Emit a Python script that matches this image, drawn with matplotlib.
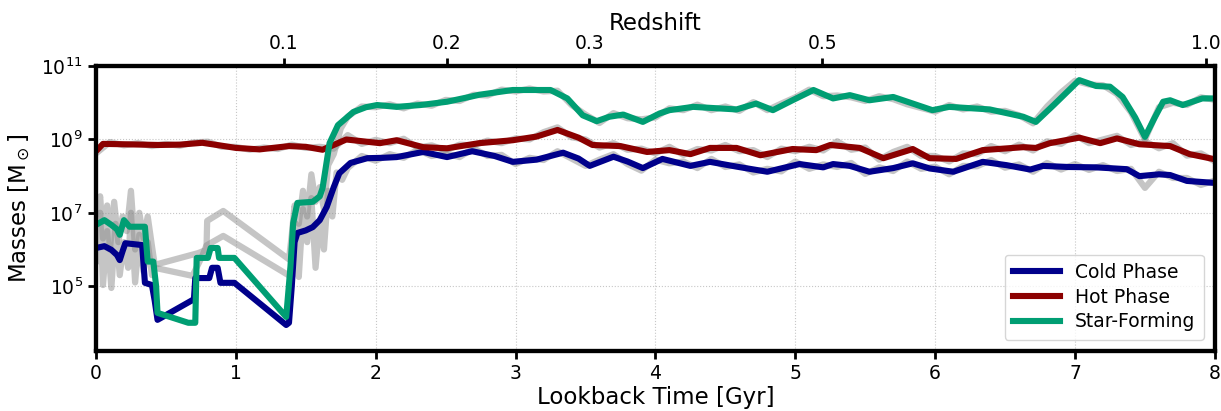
import numpy as np
import matplotlib
matplotlib.use("Agg")
import matplotlib.pyplot as plt

# ---------------------------------------------------------------------------
# Gas-phase masses (log10 Msun) versus lookback time (Gyr)
# ---------------------------------------------------------------------------

# Smoothed curves
cold_t = [0.00, 0.06, 0.11, 0.15, 0.17, 0.19, 0.21, 0.33, 0.34, 0.35, 0.40, 0.42,
          0.44, 0.69, 0.70, 0.71, 0.81, 0.83, 0.87, 0.89, 0.99, 1.36, 1.38, 1.40,
          1.42, 1.44, 1.50, 1.55, 1.60, 1.65, 1.70, 1.74, 1.82, 1.94, 2.05, 2.15,
          2.34, 2.51, 2.69, 2.85, 2.98, 3.15, 3.34, 3.45, 3.53, 3.70, 3.80, 3.91,
          4.05, 4.25, 4.39, 4.58, 4.80, 5.03, 5.20, 5.27, 5.39, 5.53, 5.70, 5.84,
          5.96, 6.13, 6.34, 6.51, 6.68, 6.77, 6.95, 7.15, 7.37, 7.46, 7.60, 7.68,
          7.80, 7.98, 8.00]
cold_log = [6.04, 6.09, 5.99, 5.85, 5.71, 5.95, 6.17, 6.12, 5.60, 5.09, 5.03, 4.60,
            4.08, 4.62, 4.62, 5.22, 5.22, 5.50, 5.50, 5.09, 5.09, 3.94, 4.00, 5.00,
            6.20, 6.45, 6.52, 6.61, 6.80, 7.16, 7.70, 8.08, 8.36, 8.49, 8.50, 8.52,
            8.66, 8.52, 8.68, 8.55, 8.39, 8.45, 8.64, 8.48, 8.28, 8.53, 8.40, 8.22,
            8.47, 8.28, 8.39, 8.26, 8.12, 8.33, 8.24, 8.33, 8.28, 8.12, 8.22, 8.35,
            8.21, 8.12, 8.39, 8.30, 8.18, 8.28, 8.25, 8.24, 8.19, 8.00, 8.05, 8.03,
            7.87, 7.82, 7.82]

hot_t = [0.00, 0.05, 0.20, 0.45, 0.60, 0.76, 0.90, 1.00, 1.17, 1.38, 1.50, 1.62,
         1.79, 2.03, 2.15, 2.34, 2.51, 2.74, 2.98, 3.15, 3.30, 3.45, 3.55, 3.75,
         3.94, 4.10, 4.25, 4.39, 4.58, 4.75, 4.98, 5.15, 5.25, 5.46, 5.63, 5.84,
         5.96, 6.15, 6.34, 6.63, 6.72, 6.82, 7.03, 7.18, 7.30, 7.46, 7.68, 7.82,
         8.00]
hot_log = [8.68, 8.88, 8.87, 8.85, 8.86, 8.91, 8.83, 8.77, 8.73, 8.82, 8.80, 8.72,
           9.00, 8.90, 8.98, 8.79, 8.76, 8.90, 8.98, 9.08, 9.26, 9.05, 8.85, 8.82,
           8.66, 8.71, 8.60, 8.77, 8.77, 8.57, 8.74, 8.71, 8.85, 8.77, 8.49, 8.74,
           8.49, 8.47, 8.71, 8.79, 8.77, 8.90, 9.05, 8.90, 9.03, 8.87, 8.82, 8.60,
           8.46]

sf_t = [0.00, 0.06, 0.11, 0.15, 0.17, 0.20, 0.24, 0.35, 0.37, 0.41, 0.43, 0.44,
        0.66, 0.71, 0.72, 0.80, 0.82, 0.87, 0.88, 0.99, 1.36, 1.39, 1.41, 1.44,
        1.55, 1.60, 1.62, 1.67, 1.73, 1.84, 1.93, 2.01, 2.15, 2.32, 2.51, 2.67,
        2.74, 2.98, 3.25, 3.37, 3.48, 3.58, 3.67, 3.77, 3.91, 4.03, 4.10, 4.27,
        4.58, 4.72, 4.84, 4.98, 5.13, 5.27, 5.39, 5.53, 5.70, 5.98, 6.10, 6.39,
        6.63, 6.72, 6.85, 7.03, 7.15, 7.25, 7.34, 7.43, 7.50, 7.57, 7.63, 7.68,
        7.77, 7.91, 8.00]
sf_log = [6.67, 6.80, 6.67, 6.55, 6.40, 6.80, 6.62, 6.62, 5.67, 5.67, 5.00, 4.27,
          4.00, 4.00, 5.77, 5.77, 6.04, 6.04, 5.77, 5.77, 4.16, 5.50, 6.72, 7.27,
          7.30, 7.45, 7.67, 8.90, 9.39, 9.75, 9.88, 9.94, 9.89, 9.94, 10.03, 10.16,
          10.22, 10.35, 10.35, 10.12, 9.66, 9.50, 9.62, 9.68, 9.48, 9.71, 9.80, 9.89,
          9.82, 9.98, 9.80, 10.07, 10.35, 10.12, 10.21, 10.07, 10.16, 9.80, 9.89, 9.82,
          9.62, 9.48, 9.95, 10.62, 10.46, 10.44, 10.16, 9.60, 9.07, 9.60, 10.03, 10.07,
          9.94, 10.12, 10.12]

# Unsmoothed snapshots
raw_late_t = [round(1.8 + 0.1 * i, 1) for i in range(63)]   # 1.8 ... 8.0
raw_full_t = [round(0.1 * i, 1) for i in range(81)]         # 0.0 ... 8.0

cold_raw_early_t = [0.00, 0.03, 0.05, 0.08, 0.11, 0.14, 0.17, 0.20, 0.23, 0.25,
                    0.28, 0.31, 0.34, 0.37, 0.40, 0.42, 0.69, 0.76, 0.79, 0.91,
                    1.38, 1.40, 1.43, 1.45, 1.48, 1.51, 1.54, 1.57, 1.60, 1.63,
                    1.66, 1.69, 1.72, 1.76]
cold_raw_early = [5.6, 7.0, 5.03, 6.5, 4.95, 6.7, 5.3, 6.2, 5.5, 7.0,
                  5.1, 6.4, 5.4, 6.2, 5.3, 5.50, 5.28, 5.82, 6.11, 6.37,
                  5.29, 5.6, 6.7, 5.25, 7.1, 6.2, 7.4, 5.5, 6.8, 6.0,
                  7.6, 6.9, 8.1, 7.9]
cold_raw_late = [8.22, 8.55, 8.42, 8.60, 8.50, 8.72, 8.55, 8.62, 8.52, 8.76,
                 8.55, 8.58, 8.33, 8.50, 8.44, 8.68, 8.48, 8.28, 8.45, 8.60,
                 8.33, 8.15, 8.45, 8.35, 8.40, 8.22, 8.47, 8.25, 8.32, 8.10,
                 8.20, 8.13, 8.40, 8.20, 8.32, 8.25, 8.36, 8.06, 8.24, 8.14,
                 8.40, 8.20, 8.26, 8.05, 8.28, 8.27, 8.44, 8.23, 8.32, 8.12,
                 8.36, 8.18, 8.33, 8.17, 8.30, 8.14, 8.20, 7.68, 8.12, 7.95,
                 7.95, 7.76, 7.88]

sf_raw_early_t = [0.00, 0.03, 0.05, 0.08, 0.10, 0.13, 0.16, 0.19, 0.22, 0.25,
                  0.28, 0.31, 0.34, 0.37, 0.40, 0.42, 0.73, 0.79, 0.795, 0.91,
                  1.38, 1.40, 1.42, 1.45, 1.48, 1.51, 1.54, 1.57, 1.60, 1.63,
                  1.66, 1.70, 1.75]
sf_raw_early = [6.9, 7.45, 6.3, 7.2, 6.0, 7.3, 6.2, 6.9, 6.5, 7.6,
                6.0, 7.0, 6.3, 6.9, 6.1, 5.58, 5.90, 5.99, 6.78, 7.05,
                5.73, 6.4, 7.2, 6.7, 7.6, 6.9, 8.05, 7.3, 7.7, 7.1,
                8.3, 8.6, 9.3]
sf_raw_late = [9.62, 9.90, 9.88, 9.96, 9.85, 9.98, 9.92, 10.08, 10.05, 10.22,
               10.20, 10.36, 10.31, 10.39, 10.31, 10.33, 9.94, 9.68, 9.45, 9.72,
               9.58, 9.55, 9.60, 9.85, 9.80, 9.95, 9.80, 9.90, 9.78, 10.02,
               9.80, 9.98, 10.15, 10.36, 10.18, 10.20, 10.15, 10.05, 10.18, 10.10,
               9.96, 9.86, 9.76, 9.94, 9.82, 9.90, 9.76, 9.78, 9.66, 9.44,
               9.90, 10.28, 10.60, 10.50, 10.48, 10.24, 9.74, 9.00, 9.88, 10.00,
               9.94, 10.15, 10.08]
hot_raw = [8.62, 8.93, 8.84, 8.90, 8.82, 8.88, 8.83, 8.92, 8.94, 8.80,
           8.80, 8.72, 8.78, 8.74, 8.86, 8.77, 8.80, 8.75, 9.12, 8.88,
           8.99, 8.90, 9.02, 8.78, 8.84, 8.70, 8.86, 8.84, 8.97, 8.90,
           9.03, 9.00, 9.20, 9.33, 9.06, 9.00, 8.78, 8.90, 8.72, 8.75,
           8.62, 8.80, 8.58, 8.74, 8.70, 8.85, 8.68, 8.71, 8.52, 8.75,
           8.68, 8.80, 8.70, 8.95, 8.72, 8.78, 8.45, 8.66, 8.80, 8.55,
           8.55, 8.40, 8.62, 8.60, 8.82, 8.68, 8.86, 8.70, 8.95, 8.88,
           9.12, 8.90, 9.00, 9.10, 8.85, 8.95, 8.76, 8.90, 8.56, 8.62,
           8.40]

labels = ["Cold Phase", "Hot Phase", "Star-Forming"]
colors = ["#00008B", "#8B0000", "#009E73"]

redshift_ticks = [0.1, 0.2, 0.3, 0.5, 1.0]
redshift_labels = ["0.1", "0.2", "0.3", "0.5", "1.0"]

# Flat LCDM (Planck 2015) lookback time
H0 = 67.74
Om0 = 0.3089
hubble_time = 977.79 / H0  # Gyr


def lookback_time(z):
    zz = np.linspace(0.0, z, 2001)
    integrand = 1.0 / ((1.0 + zz) * np.sqrt(Om0 * (1.0 + zz) ** 3 + (1.0 - Om0)))
    return hubble_time * np.trapezoid(integrand, zz)


# ---------------------------------------------------------------------------
fig = plt.figure(figsize=(12.21, 4.11), dpi=100)
ax = fig.add_axes([0.0786, 0.146, 0.9164, 0.693])

grey_kw = dict(color="0.55", alpha=0.5, lw=4.5, solid_capstyle="butt", zorder=2)
ax.plot(raw_full_t, 10.0 ** np.array(hot_raw), **grey_kw)
ax.plot(cold_raw_early_t + raw_late_t,
        10.0 ** np.array(cold_raw_early + cold_raw_late), **grey_kw)
ax.plot(sf_raw_early_t + raw_late_t,
        10.0 ** np.array(sf_raw_early + sf_raw_late), **grey_kw)

for t, lg, lab, c in zip([cold_t, hot_t, sf_t], [cold_log, hot_log, sf_log], labels, colors):
    ax.plot(t, 10.0 ** np.array(lg), color=c, lw=4.4, label=lab, zorder=3,
            solid_joinstyle="round")

ax.set_yscale("log")
ax.set_xlim(0, 8)
ax.set_ylim(1.7e3, 1e11)
ax.set_yticks([1e5, 1e7, 1e9, 1e11])
ax.yaxis.set_minor_locator(matplotlib.ticker.NullLocator())
ax.set_xticks(range(9))
ax.grid(True, which="major", color="0.78", linestyle=":", linewidth=0.8, zorder=0)

for sp in ax.spines.values():
    sp.set_linewidth(3)
ax.tick_params(axis="both", which="major", labelsize=13.5, length=6, width=2, direction="out")
ax.set_xlabel("Lookback Time [Gyr]", fontsize=16.5, labelpad=2)
ax.set_ylabel(r"Masses [M$_\odot$]", fontsize=16.5, labelpad=6)

top = ax.twiny()
top.set_xlim(ax.get_xlim())
top.set_xticks([lookback_time(z) for z in redshift_ticks])
top.set_xticklabels(redshift_labels)
top.tick_params(axis="x", labelsize=13.5, length=6, width=2, direction="out")
top.set_xlabel("Redshift", fontsize=16.5, labelpad=3)
for sp in top.spines.values():
    sp.set_linewidth(3)

leg = ax.legend(loc="lower right", fontsize=13.5, frameon=True, framealpha=0.8,
                handlelength=2.5, borderpad=0.45, labelspacing=0.3,
                borderaxespad=0.6)
for line in leg.get_lines():
    line.set_linewidth(4.4)

fig.savefig("out.png", dpi=100)
